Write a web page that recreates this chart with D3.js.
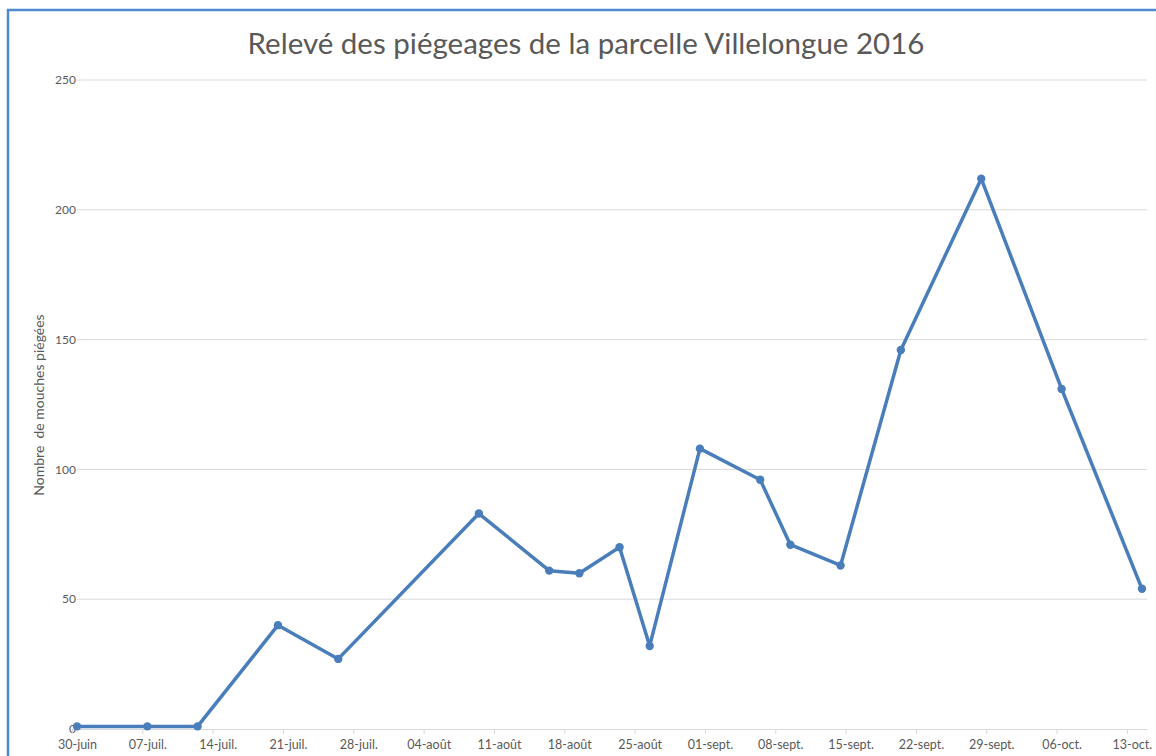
<!DOCTYPE html>
<html>
<head>
<meta charset="utf-8">
<script src="https://cdn.jsdelivr.net/npm/d3@7"></script>
<style>
  body { margin: 0; background: #ffffff; }
  text { font-family: Lato, "Open Sans", sans-serif; fill: #595959; }
</style>
</head>
<body>
<div id="grafiekContainer"></div>
<script>

// données des relevés (date du relevé, nombre de mouches)
var dates = ["2016-06-30", "2016-07-07", "2016-07-12", "2016-07-20", "2016-07-26",
             "2016-08-09", "2016-08-16", "2016-08-19", "2016-08-23", "2016-08-26",
             "2016-08-31", "2016-09-06", "2016-09-09", "2016-09-14", "2016-09-20",
             "2016-09-28", "2016-10-06", "2016-10-14"];
var mouches = [1, 1, 1, 40, 27, 83, 61, 60, 70, 32, 108, 96, 71, 63, 146, 212, 131, 54];

// étiquettes des axes
var etiquettesX = ["30-juin", "07-juil.", "14-juil.", "21-juil.", "28-juil.", "04-août",
                   "11-août", "18-août", "25-août", "01-sept.", "08-sept.", "15-sept.",
                   "22-sept.", "29-sept.", "06-oct.", "13-oct."];
var ticksY = [0, 50, 100, 150, 200, 250];

var titre = "Relevé des piégeages de la parcelle Villelongue 2016";
var titreY = "Nombre  de mouches piégées";

var largeur = 1156;
var hauteur = 756;

// marges du graphique
var marge = {haut: 80, bas: 27, gauche: 72, droite: 9};

var parseDate = d3.timeParse("%Y-%m-%d");
var donnees = dates.map(function(d, i) {
  return {date: parseDate(d), valeur: mouches[i]};
});

// l'axe va du 30 juin au 15 octobre
var debut = parseDate("2016-06-30");
var fin = d3.timeDay.offset(debut, 107);

// crée le SVG
var svg = d3.select("#grafiekContainer")
            .append("svg")
            .attr("width", largeur)
            .attr("height", hauteur);

// cadre bleu autour du graphique
svg.append("rect")
   .attr("x", 8)
   .attr("y", 10)
   .attr("width", largeur + 20)
   .attr("height", hauteur + 20)
   .attr("fill", "none")
   .attr("stroke", "#4f8ad0")
   .attr("stroke-width", 2.5);

// échelles
var x = d3.scaleTime()
          .domain([debut, fin])
          .range([marge.gauche, largeur - marge.droite]);

var y = d3.scaleLinear()
          .domain([0, 250])
          .range([hauteur - marge.bas, marge.haut]);

// un jour = une case, les points sont au milieu de la case
var demiJour = (x(d3.timeDay.offset(debut, 1)) - x(debut)) / 2;

// lignes de la grille
svg.append("g")
   .attr("class", "grille")
   .selectAll("line")
   .data(ticksY.slice(1))
   .enter()
   .append("line")
   .attr("x1", marge.gauche + 5)
   .attr("x2", largeur - marge.droite)
   .attr("y1", function(d) { return y(d); })
   .attr("y2", function(d) { return y(d); })
   .attr("stroke", "#d9d9d9")
   .attr("stroke-width", 1);

// valeurs de l'axe y
svg.append("g")
   .selectAll("text")
   .data(ticksY)
   .enter()
   .append("text")
   .attr("x", marge.gauche + 4)
   .attr("y", function(d) { return y(d); })
   .attr("dy", "0.35em")
   .attr("text-anchor", "end")
   .attr("font-size", "12px")
   .text(function(d) { return d; });

// axe x
var tickDates = etiquettesX.map(function(d, i) {
  return d3.timeDay.offset(debut, 7 * i);
});

var asX = d3.axisBottom(x)
            .tickValues(tickDates)
            .tickSize(5)
            .tickSizeOuter(0)
            .tickFormat(function(d, i) { return etiquettesX[i]; });

var gAsX = svg.append("g")
              .attr("class", "xAs")
              .attr("transform", "translate(0," + y(0) + ")")
              .call(asX);

gAsX.select(".domain").attr("stroke", "#d9d9d9");
gAsX.selectAll(".tick line").attr("stroke", "#d9d9d9");
gAsX.selectAll(".tick text")
    .attr("x", demiJour)
    .attr("y", 11)
    .attr("font-size", "12.5px")
    .attr("font-family", "Lato, sans-serif")
    .attr("fill", "#595959");

// titre de l'axe y (le double espace est gardé)
svg.append("text")
   .attr("transform", "rotate(-90)")
   .attr("x", -405)
   .attr("y", 44)
   .attr("text-anchor", "middle")
   .attr("font-size", "14px")
   .style("white-space", "pre")
   .text(titreY);

// titre du graphique
svg.append("text")
   .attr("x", 586)
   .attr("y", 54)
   .attr("text-anchor", "middle")
   .attr("font-size", "29.5px")
   .text(titre);

// la courbe
var ligne = d3.line()
              .x(function(d) { return x(d.date) + demiJour; })
              .y(function(d) { return y(d.valeur); });

svg.append("path")
   .datum(donnees)
   .attr("d", ligne)
   .attr("fill", "none")
   .attr("stroke", "#4a7ebb")
   .attr("stroke-width", 3.5)
   .attr("stroke-linejoin", "round");

// les points
svg.selectAll("circle")
   .data(donnees)
   .enter()
   .append("circle")
   .attr("cx", function(d) { return x(d.date) + demiJour; })
   .attr("cy", function(d) { return y(d.valeur); })
   .attr("r", 4.2)
   .attr("fill", "#4a7ebb");

</script>
</body>
</html>
